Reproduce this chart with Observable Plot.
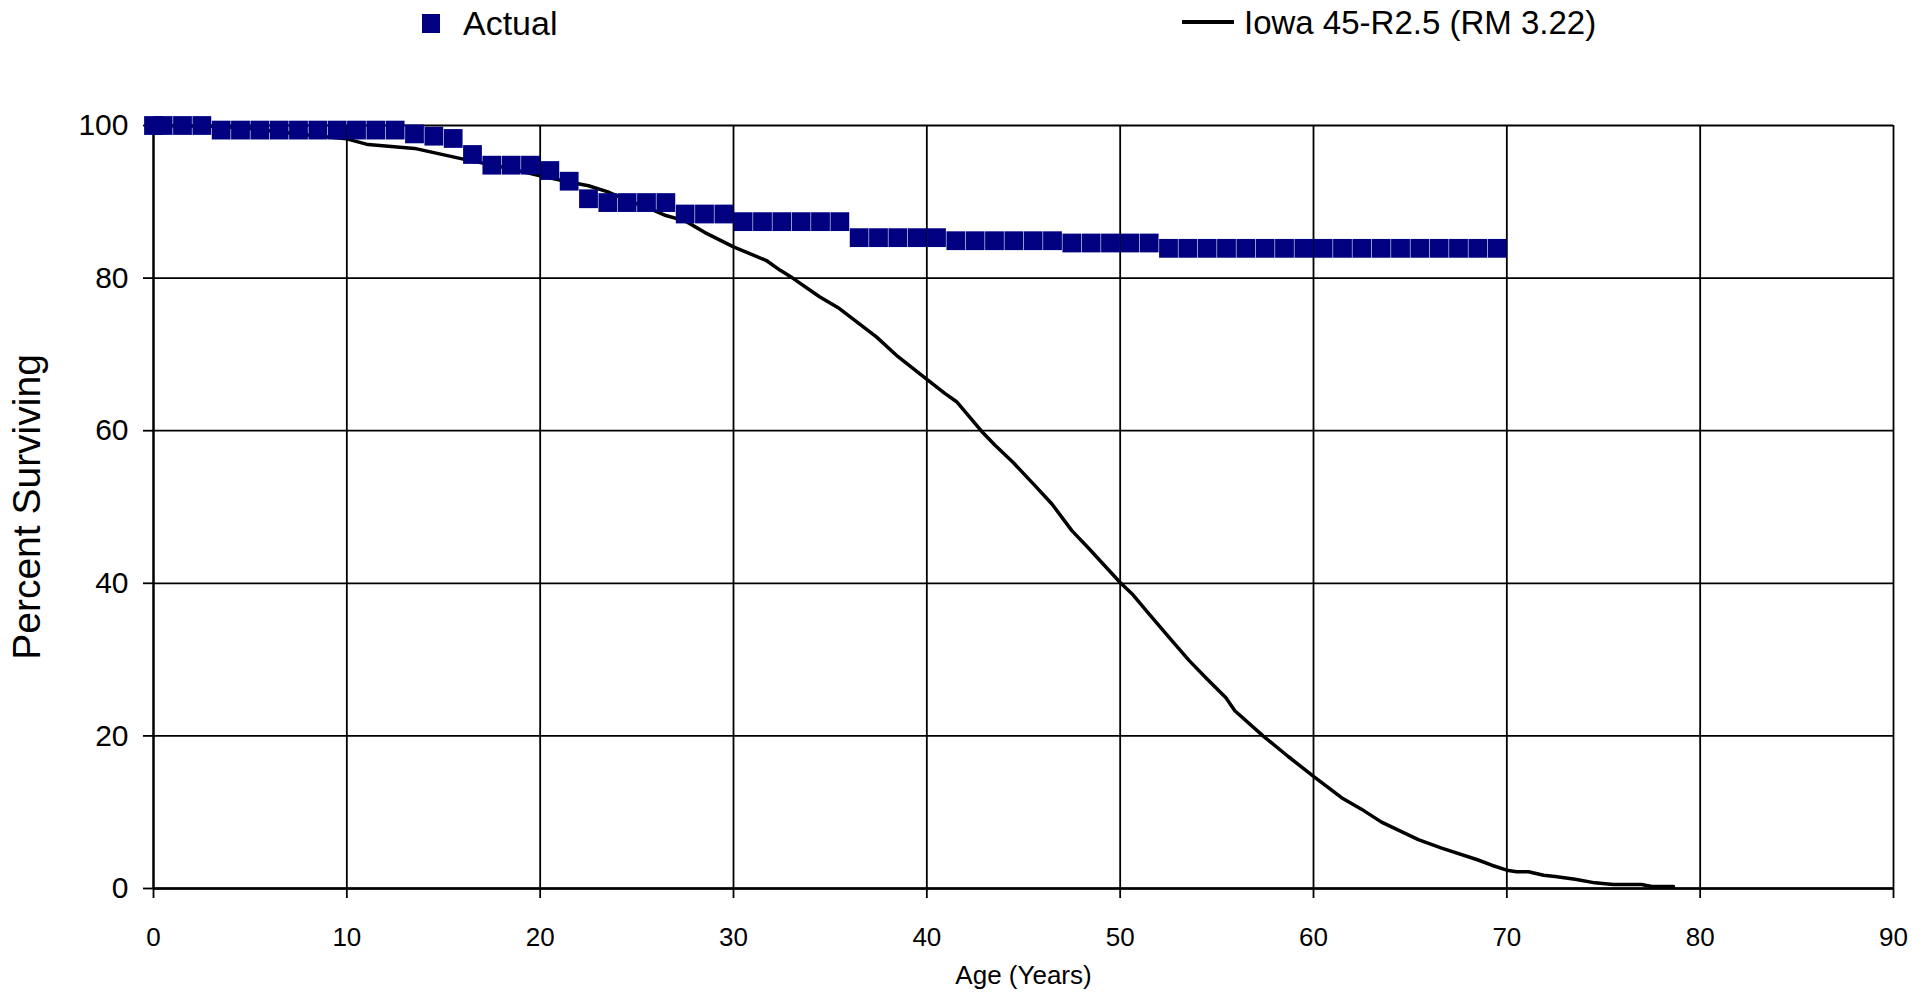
<!DOCTYPE html>
<html>
<head>
<meta charset="utf-8">
<script src="https://cdn.jsdelivr.net/npm/d3@7"></script>
<script src="https://cdn.jsdelivr.net/npm/@observablehq/plot@0.6"></script>
<style>
  html, body { margin: 0; padding: 0; background: #fff; }
  #wrap { position: relative; width: 1931px; font-family: "Liberation Sans", Arial, sans-serif; color: #000; }
  #legend { position: relative; height: 60px; }
  .lg { position: absolute; }
  .lgtext { font-size: 33px; line-height: 34px; white-space: nowrap; }
</style>
</head>
<body>
<div id="wrap">
  <div id="legend">
    <div class="lg" style="left:422px;top:14px;width:18px;height:19px;background:#000080"></div>
    <div class="lg lgtext" style="left:463px;top:6px;font-size:34px">Actual</div>
    <div class="lg" style="left:1182px;top:20px;width:52px;height:4px;background:#000"></div>
    <div class="lg lgtext" style="left:1244px;top:6px">Iowa 45-R2.5 (RM 3.22)</div>
  </div>
  <div id="chart"></div>
</div>
<script>
// Actual (observed) survivor curve
const actualAge = [0, 0.5, 1.5, 2.5, 3.5, 4.5, 5.5, 6.5, 7.5, 8.5, 9.5, 10.5, 11.5, 12.5, 13.5, 14.5, 15.5, 16.5, 17.5, 18.5,
  19.5, 20.5, 21.5, 22.5, 23.5, 24.5, 25.5, 26.5, 27.5, 28.5, 29.5, 30.5, 31.5, 32.5, 33.5, 34.5, 35.5, 36.5, 37.5, 38.5,
  39.5, 40.5, 41.5, 42.5, 43.5, 44.5, 45.5, 46.5, 47.5, 48.5, 49.5, 50.5, 51.5, 52.5, 53.5, 54.5, 55.5, 56.5, 57.5, 58.5,
  59.5, 60.5, 61.5, 62.5, 63.5, 64.5, 65.5, 66.5, 67.5, 68.5, 69.5];
const actualPct = [100, 100, 100, 100, 99.4, 99.4, 99.4, 99.4, 99.4, 99.4, 99.4, 99.4, 99.4, 99.4, 98.9, 98.6, 98.3, 96.2, 94.8, 94.8,
  94.8, 94.1, 92.7, 90.4, 89.9, 89.9, 89.9, 89.9, 88.4, 88.4, 88.4, 87.4, 87.4, 87.4, 87.4, 87.4, 87.4, 85.3, 85.3, 85.3,
  85.3, 85.3, 84.9, 84.9, 84.9, 84.9, 84.9, 84.9, 84.6, 84.6, 84.6, 84.6, 84.6, 83.9, 83.9, 83.9, 83.9, 83.9, 83.9, 83.9,
  83.9, 83.9, 83.9, 83.9, 83.9, 83.9, 83.9, 83.9, 83.9, 83.9, 83.9];

// Iowa 45-R2.5 fitted curve
const iowaAge = [0, 3, 5, 8.2, 10, 11.1, 13.5, 16.2, 18, 20, 21.5, 22.5, 23.5, 24.5, 25.5, 26.5, 27.5, 28.5, 30, 31.7,
  32.4, 33.06, 34.45, 35.48, 37.39, 38.51, 40.07, 40.93, 41.54, 42.84, 43.53, 44.48, 45.52, 46.47, 47.5, 48.37, 50, 50.62, 51.49, 52.53,
  53.56, 54.52, 55.47, 55.93, 57.39, 58.69, 60, 61.45, 62.48, 63.52, 65.42, 66.63, 68.44, 69.22, 70, 70.51, 71.12, 71.9, 72.5, 73.53,
  74.56, 75.5, 76.97, 77.5, 78.62];
const iowaPct = [100, 99.9, 99.6, 98.7, 98.25, 97.5, 97.0, 95.5, 94.6, 93.4, 92.6, 92.1, 91.3, 90.2, 89.3, 88.2, 87.5, 86.0, 84.1, 82.3,
  81.05, 80.0, 77.55, 76.0, 72.3, 69.7, 66.6, 64.9, 63.8, 59.9, 58.1, 55.8, 53.0, 50.4, 46.9, 44.6, 40.1, 38.6, 36.0, 32.9,
  29.9, 27.4, 25.0, 23.3, 20.0, 17.3, 14.7, 11.9, 10.4, 8.7, 6.4, 5.3, 3.8, 3.05, 2.4, 2.2, 2.2, 1.74, 1.57, 1.2,
  0.74, 0.52, 0.52, 0.26, 0.26];

const xTicks = [0, 10, 20, 30, 40, 50, 60, 70, 80, 90];
const yTicks = [0, 20, 40, 60, 80, 100];

const actual = actualAge.map((a, i) => ({age: a, pct: actualPct[i]}));
const iowa = iowaAge.map((a, i) => ({age: a, pct: iowaPct[i]}));

const chart = Plot.plot({
  width: 1931,
  height: 935,
  marginTop: 65,
  marginBottom: 107,
  marginLeft: 153,
  marginRight: 38,
  style: {fontFamily: "'Liberation Sans', Arial, sans-serif", background: "#fff", color: "#000", overflow: "visible"},
  x: {domain: [0, 90]},
  y: {domain: [0, 100]},
  marks: [
    Plot.gridX(xTicks, {stroke: "#000", strokeOpacity: 1, strokeWidth: 1.8}),
    Plot.gridY(yTicks, {stroke: "#000", strokeOpacity: 1, strokeWidth: 1.8}),
    Plot.axisX({ticks: xTicks, tickSize: 10, tickPadding: 29, fontSize: 26, strokeWidth: 1.8, label: null}),
    Plot.axisY({ticks: yTicks, tickSize: 10, tickPadding: 15, fontSize: 30, strokeWidth: 1.8, label: null}),
    Plot.ruleY([0], {stroke: "#000", strokeWidth: 2.5}),
    Plot.ruleX([0], {stroke: "#000", strokeWidth: 2.2}),
    Plot.text(["Age (Years)"], {frameAnchor: "bottom", textAnchor: "middle", dy: 95, fontSize: 26, fill: "#000"}),
    Plot.text(["Percent Surviving"], {frameAnchor: "left", textAnchor: "middle", rotate: -90, dx: -126, fontSize: 39, fill: "#000"}),
    Plot.line(iowa, {x: "age", y: "pct", stroke: "#000", strokeWidth: 3.5}),
    Plot.dot(actual, {x: "age", y: "pct", symbol: "square", r: 10.6, fill: "#000080", stroke: "none"})
  ]
});
document.getElementById("chart").appendChild(chart);
</script>
</body>
</html>
